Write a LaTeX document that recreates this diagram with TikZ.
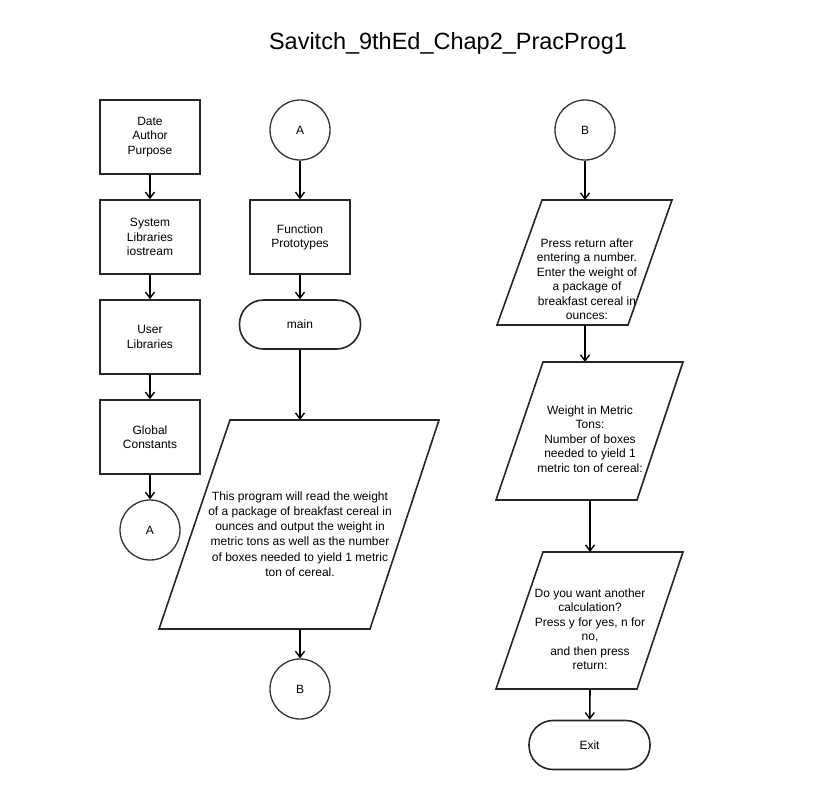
\documentclass[tikz,border=0pt]{standalone}
\usepackage{fontspec}
\setmainfont{Liberation Sans}
\usetikzlibrary{arrows.meta}
\begin{document}
\begin{tikzpicture}[x=1pt,y=-1pt,
  shp/.style={draw=black!85,line width=1.6pt},
  boxn/.style={shp,minimum width=100pt,minimum height=74pt,inner sep=0pt,align=center,font=\fontsize{12}{14.2}\selectfont},
  circn/.style={draw=black!80,line width=1.3pt,circle,minimum size=60pt,inner sep=0pt,font=\fontsize{12}{14}\selectfont},
  termn/.style={shp,rounded corners=24pt,minimum width=121pt,minimum height=49pt,inner sep=0pt,font=\fontsize{12}{14}\selectfont},
  txt/.style={align=center,inner sep=0pt,font=\fontsize{12}{14.5}\selectfont},
  arr/.style={line width=1.6pt,draw=black,-{Straight Barb[length=6pt,width=9pt,line width=1.4pt]}}]
\useasboundingbox (0,0) rectangle (817,790);
\node[font=\fontsize{23.5}{26}\selectfont] (title) at (448,43) {Savitch\_9thEd\_Chap2\_PracProg1};
% column 1
\node[boxn] (b1) at (150,137) {Date\\Author\\Purpose};
\node[boxn] (b2) at (150,237) {System\\Libraries\\iostream};
\node[boxn] (b3) at (150,337) {User\\Libraries};
\node[boxn] (b4) at (150,437) {Global\\Constants};
\node[circn] (a1) at (150,530) {A};
\draw[arr] (b1) -- (b2);
\draw[arr] (b2) -- (b3);
\draw[arr] (b3) -- (b4);
\draw[arr] (b4) -- (a1);
% column 2
\node[circn] (a2) at (300,130) {A};
\node[boxn] (fp) at (300,237) {Function\\Prototypes};
\node[termn] (mn) at (300,324.5) {main};
\draw[shp] (230,420) -- (439,420) -- (370,629) -- (159,629) -- cycle;
\coordinate (pbt) at (300,420);
\coordinate (pbb) at (300,629);
\node[txt,font=\fontsize{12}{15.3}\selectfont] (pbtext) at (300,534) {This program will read the weight\\of a package of breakfast cereal in\\ounces and output the weight in\\metric tons as well as the number\\of boxes needed to yield 1 metric\\ton of cereal.};
\node[circn] (b2c) at (300,689) {B};
\draw[arr] (a2) -- (fp);
\draw[arr] (fp) -- (mn);
\draw[arr] (mn) -- (pbt);
\draw[arr] (pbb) -- (b2c);
% column 3
\node[circn] (b3c) at (585,130) {B};
\draw[shp] (542,200) -- (672,200) -- (628,325) -- (497,325) -- cycle;
\coordinate (p1t) at (585,200);
\coordinate (p1b) at (585,325);
\node[txt] (p1text) at (587,279) {Press return after\\entering a number.\\Enter the weight of\\a package of\\breakfast cereal in\\ounces:};
\draw[shp] (543,362) -- (683,362) -- (637,500) -- (496,500) -- cycle;
\coordinate (p2t) at (585,362);
\coordinate (p2b) at (590,500);
\node[txt] (p2text) at (590,439) {Weight in Metric\\Tons:\\Number of boxes\\needed to yield 1\\metric ton of cereal:};
\draw[shp] (543,552) -- (683,552) -- (637,689) -- (496,689) -- cycle;
\coordinate (p3t) at (590,552);
\coordinate (p3b) at (590,689);
\node[txt] (p3text) at (590,629) {Do you want another\\calculation?\\Press y for yes, n for\\no,\\and then press\\return:};
\node[termn] (ex) at (589.5,745) {Exit};
\draw[arr] (b3c) -- (p1t);
\draw[arr] (p1b) -- (p2t);
\draw[arr] (p2b) -- (p3t);
\draw[arr] (p3b) -- (ex);
\end{tikzpicture}
\end{document}
